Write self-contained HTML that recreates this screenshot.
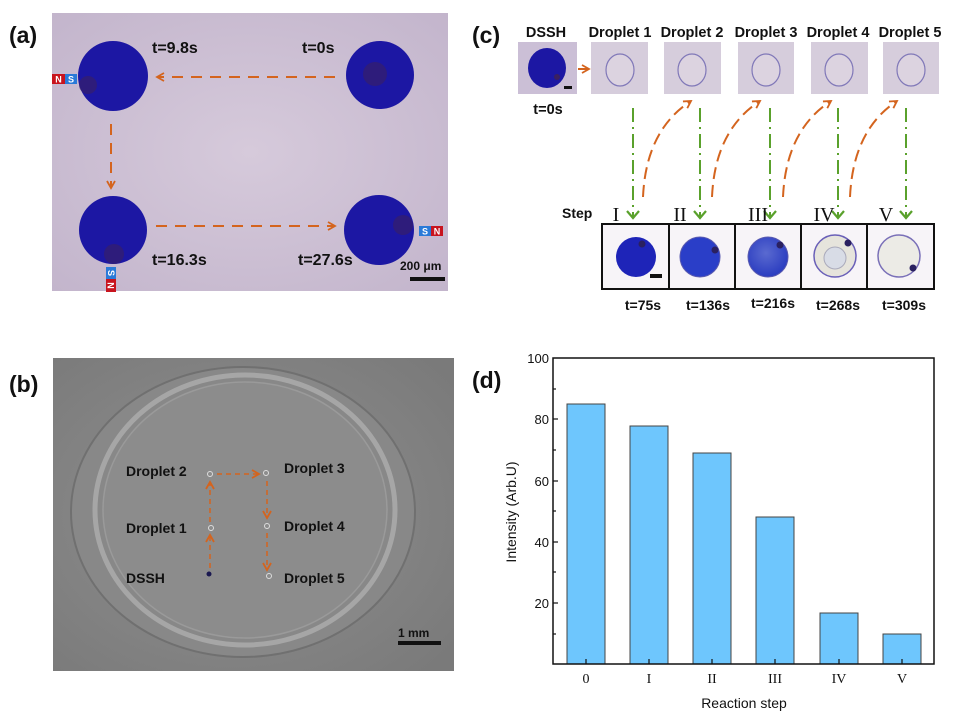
<!DOCTYPE html>
<html><head><meta charset="utf-8"><style>
html,body{margin:0;padding:0;background:#fff;}
svg{display:block;font-family:"Liberation Sans",Arial,sans-serif;}
.b{font-weight:bold;fill:#111;}
</style></head><body>
<svg width="955" height="717" viewBox="0 0 955 717" xmlns="http://www.w3.org/2000/svg">
<defs>
<radialGradient id="bgA" cx="50%" cy="50%" r="70%"><stop offset="0" stop-color="#d6cadb"/><stop offset="1" stop-color="#c3b5cc"/></radialGradient>
<radialGradient id="bgB" cx="45%" cy="50%" r="70%"><stop offset="0" stop-color="#909090"/><stop offset="1" stop-color="#7a7a7a"/></radialGradient>
<radialGradient id="c3" cx="45%" cy="40%" r="60%"><stop offset="0" stop-color="#5a6ad0"/><stop offset="1" stop-color="#2a3cc0"/></radialGradient>
<marker id="oa" markerWidth="10" markerHeight="10" refX="8" refY="5" orient="auto" markerUnits="userSpaceOnUse"><path d="M1,1 L8,5 L1,9" fill="none" stroke="#d4641e" stroke-width="1.8"/></marker>
<marker id="ga" markerWidth="14" markerHeight="12" refX="7" refY="10" orient="0" markerUnits="userSpaceOnUse"><path d="M1,3 L7,10 L13,3" fill="none" stroke="#5aa12c" stroke-width="2.2"/></marker>
</defs>

<!-- (a) -->
<text x="9" y="43" class="b" font-size="23">(a)</text>
<rect x="52" y="13" width="396" height="278" fill="url(#bgA)"/>
<g fill="#1c17a3">
<circle cx="113" cy="76" r="35"/><circle cx="380" cy="75" r="34"/>
<circle cx="113" cy="230" r="34"/><circle cx="379" cy="230" r="35"/>
</g>
<g fill="#3a2060" opacity="0.6">
<circle cx="88" cy="85" r="9"/><circle cx="375" cy="74" r="12"/><circle cx="114" cy="254" r="10"/><circle cx="403" cy="225" r="10"/>
</g>
<g font-size="16" class="b">
<text x="152" y="53">t=9.8s</text><text x="302" y="53">t=0s</text>
<text x="152" y="265">t=16.3s</text><text x="298" y="265">t=27.6s</text>
</g>
<g stroke="#d4641e" stroke-width="2" stroke-dasharray="11,8" fill="none">
<line x1="335" y1="77" x2="157" y2="77" marker-end="url(#oa)"/>
<line x1="111" y1="124" x2="111" y2="188" marker-end="url(#oa)"/>
<line x1="156" y1="226" x2="335" y2="226" marker-end="url(#oa)"/>
</g>
<g font-size="9" font-weight="bold" fill="#fff" text-anchor="middle">
<rect x="52" y="74" width="13" height="10" fill="#c8141e"/><rect x="65" y="74" width="12" height="10" fill="#2a7ad8"/>
<text x="58.5" y="82.5">N</text><text x="71" y="82.5">S</text>
<rect x="419" y="226" width="12" height="10" fill="#2a7ad8"/><rect x="431" y="226" width="12" height="10" fill="#c8141e"/>
<text x="425" y="234.5">S</text><text x="437" y="234.5">N</text>
<rect x="106" y="267" width="10" height="12" fill="#2a7ad8"/><rect x="106" y="279" width="10" height="13" fill="#c8141e"/>
<text x="111" y="276" transform="rotate(90 111 273)">S</text><text x="111" y="289" transform="rotate(90 111 285.5)">N</text>
</g>
<text x="400" y="270" class="b" font-size="12">200 μm</text>
<rect x="410" y="277" width="35" height="4" fill="#111"/>

<!-- (b) -->
<text x="9" y="392" class="b" font-size="23">(b)</text>
<rect x="53" y="358" width="401" height="313" fill="url(#bgB)"/>
<ellipse cx="243" cy="512" rx="172" ry="145" fill="#888" stroke="#707070" stroke-width="2"/>
<ellipse cx="245" cy="510" rx="150" ry="135" fill="none" stroke="#b4b4b4" stroke-width="5" opacity="0.7"/>
<ellipse cx="245" cy="510" rx="142" ry="128" fill="#8c8c8c" stroke="#9a9a9a" stroke-width="1.5"/>
<g font-size="14" class="b">
<text x="126" y="476">Droplet 2</text><text x="284" y="473">Droplet 3</text>
<text x="126" y="533">Droplet 1</text><text x="284" y="531">Droplet 4</text>
<text x="126" y="583">DSSH</text><text x="284" y="583">Droplet 5</text>
</g>
<g fill="none" stroke="#ddd" stroke-width="1">
<circle cx="210" cy="474" r="2.5"/><circle cx="266" cy="473" r="2.5"/><circle cx="211" cy="528" r="2.5"/><circle cx="267" cy="526" r="2.5"/><circle cx="269" cy="576" r="2.5"/>
</g>
<circle cx="209" cy="574" r="2.5" fill="#1a1850"/>
<g stroke="#d4641e" stroke-width="1.5" stroke-dasharray="5,4" fill="none">
<line x1="210" y1="568" x2="210" y2="535" marker-end="url(#oa)"/>
<line x1="210" y1="522" x2="210" y2="482" marker-end="url(#oa)"/>
<line x1="217" y1="474" x2="259" y2="474" marker-end="url(#oa)"/>
<line x1="267" y1="481" x2="267" y2="518" marker-end="url(#oa)"/>
<line x1="267" y1="533" x2="267" y2="570" marker-end="url(#oa)"/>
</g>
<text x="398" y="637" font-size="12" class="b" fill="#111">1 mm</text>
<rect x="398" y="641" width="43" height="4" fill="#111"/>

<!-- (c) -->
<text x="472" y="43" class="b" font-size="23">(c)</text>
<g font-size="14.5" class="b" text-anchor="middle">
<text x="546" y="37">DSSH</text><text x="620" y="37">Droplet 1</text><text x="692" y="37">Droplet 2</text>
<text x="766" y="37">Droplet 3</text><text x="838" y="37">Droplet 4</text><text x="910" y="37">Droplet 5</text>
<text x="548" y="114">t=0s</text>
</g>
<rect x="518" y="42" width="59" height="52" fill="#cbbfd6"/>
<ellipse cx="547" cy="68" rx="19" ry="20" fill="#1c17a3"/>
<circle cx="557" cy="77" r="3" fill="#3a2060"/>
<rect x="564" y="86" width="8" height="3" fill="#111"/>
<g fill="#d6cddc">
<rect x="591" y="42" width="57" height="52"/><rect x="664" y="42" width="57" height="52"/><rect x="738" y="42" width="56" height="52"/><rect x="811" y="42" width="57" height="52"/><rect x="883" y="42" width="56" height="52"/>
</g>
<g fill="#dcd3e0" stroke="#8078b8" stroke-width="1.2">
<ellipse cx="620" cy="70" rx="14" ry="16"/><ellipse cx="692" cy="70" rx="14" ry="16"/><ellipse cx="766" cy="70" rx="14" ry="16"/><ellipse cx="839" cy="70" rx="14" ry="16"/><ellipse cx="911" cy="70" rx="14" ry="16"/>
</g>
<line x1="578" y1="69" x2="589" y2="69" stroke="#d4641e" stroke-width="2" marker-end="url(#oa)"/>
<g stroke="#5aa12c" stroke-width="2" stroke-dasharray="14,5,2,5" fill="none">
<line x1="633" y1="108" x2="633" y2="218" marker-end="url(#ga)"/>
<line x1="700" y1="108" x2="700" y2="218" marker-end="url(#ga)"/>
<line x1="770" y1="108" x2="770" y2="218" marker-end="url(#ga)"/>
<line x1="838" y1="108" x2="838" y2="218" marker-end="url(#ga)"/>
<line x1="906" y1="108" x2="906" y2="218" marker-end="url(#ga)"/>
</g>
<g stroke="#d4641e" stroke-width="2" stroke-dasharray="12,6" fill="none">
<path d="M643,197 Q646,130 691,101" marker-end="url(#oa)"/>
<path d="M712,197 Q715,130 760,101" marker-end="url(#oa)"/>
<path d="M783,197 Q786,130 831,101" marker-end="url(#oa)"/>
<path d="M850,197 Q853,130 897,101" marker-end="url(#oa)"/>
</g>
<text x="562" y="218" class="b" font-size="14">Step</text>
<g font-family="Liberation Serif,serif" font-size="20" fill="#111" text-anchor="middle">
<text x="616" y="221">I</text><text x="680" y="221">II</text><text x="758" y="221">III</text><text x="824" y="221">IV</text><text x="886" y="221">V</text>
</g>
<rect x="602" y="224" width="332" height="65" fill="#f7f4f8" stroke="#111" stroke-width="2"/>
<g stroke="#111" stroke-width="2"><line x1="669" y1="224" x2="669" y2="289"/><line x1="735" y1="224" x2="735" y2="289"/><line x1="801" y1="224" x2="801" y2="289"/><line x1="867" y1="224" x2="867" y2="289"/></g>
<circle cx="636" cy="257" r="20" fill="#1e24b8"/>
<circle cx="700" cy="257" r="20" fill="#2a3ec8" stroke="#5a5ab0"/>
<circle cx="768" cy="257" r="20" fill="url(#c3)" stroke="#5a5ab0"/>
<circle cx="835" cy="256" r="21" fill="#e6e4dc" stroke="#6a60b8" stroke-width="1.5"/>
<circle cx="835" cy="258" r="11" fill="#d8dce6" stroke="#aab" />
<circle cx="899" cy="256" r="21" fill="#ecebe6" stroke="#7a70b8" stroke-width="1.5"/>
<g fill="#2a2060"><circle cx="642" cy="244" r="3.5"/><circle cx="715" cy="250" r="3.5"/><circle cx="780" cy="245" r="3.5"/><circle cx="848" cy="243" r="3.5"/><circle cx="913" cy="268" r="3.5"/></g>
<rect x="650" y="274" width="12" height="4" fill="#111"/>
<g font-size="14" class="b" text-anchor="middle">
<text x="643" y="310">t=75s</text><text x="708" y="310">t=136s</text><text x="773" y="308">t=216s</text><text x="838" y="310">t=268s</text><text x="904" y="310">t=309s</text>
</g>

<!-- (d) -->
<text x="472" y="388" class="b" font-size="23">(d)</text>
<g fill="#6ec6fd" stroke="#444" stroke-width="1">
<rect x="567" y="404" width="38" height="260"/>
<rect x="630" y="426" width="38" height="238"/>
<rect x="693" y="453" width="38" height="211"/>
<rect x="756" y="517" width="38" height="147"/>
<rect x="820" y="613" width="38" height="51"/>
<rect x="883" y="634" width="38" height="30"/>
</g>
<rect x="553" y="358" width="381" height="306" fill="none" stroke="#111" stroke-width="1.5"/>
<g stroke="#111" stroke-width="1.2">
<line x1="553" y1="419" x2="558" y2="419"/><line x1="553" y1="481" x2="558" y2="481"/><line x1="553" y1="542" x2="558" y2="542"/><line x1="553" y1="603" x2="558" y2="603"/>
<line x1="553" y1="389" x2="556" y2="389"/><line x1="553" y1="450" x2="556" y2="450"/><line x1="553" y1="511" x2="556" y2="511"/><line x1="553" y1="572" x2="556" y2="572"/><line x1="553" y1="634" x2="556" y2="634"/>
<line x1="586" y1="664" x2="586" y2="659"/><line x1="649" y1="664" x2="649" y2="659"/><line x1="712" y1="664" x2="712" y2="659"/><line x1="775" y1="664" x2="775" y2="659"/><line x1="839" y1="664" x2="839" y2="659"/><line x1="902" y1="664" x2="902" y2="659"/>
</g>
<g font-size="13" fill="#111" text-anchor="end">
<text x="549" y="363">100</text><text x="549" y="424">80</text><text x="549" y="486">60</text><text x="549" y="547">40</text><text x="549" y="608">20</text>
</g>
<g font-family="Liberation Serif,serif" font-size="14" fill="#111" text-anchor="middle">
<text x="586" y="683">0</text><text x="649" y="683">I</text><text x="712" y="683">II</text><text x="775" y="683">III</text><text x="839" y="683">IV</text><text x="902" y="683">V</text>
</g>
<text x="744" y="708" font-size="14" fill="#111" text-anchor="middle">Reaction step</text>
<text x="0" y="0" font-size="14" fill="#111" text-anchor="middle" transform="translate(516,512) rotate(-90)">Intensity (Arb.U)</text>
</svg>
</body></html>
